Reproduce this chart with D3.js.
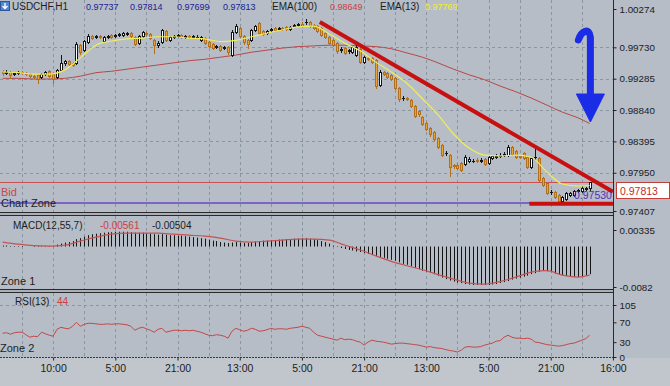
<!DOCTYPE html>

<head>
  <meta charset="utf-8">
  <script src="https://d3js.org/d3.v7.min.js"></script>
  <style>
    body {
      margin: 0;
      background: #b6bdc6;
    }
    svg text {
      font-family: "Liberation Sans", Arial, sans-serif;
    }
    .axis text {
      font-family: "Liberation Sans Narrow", "Liberation Sans", Arial, sans-serif;
      font-size: 9.8px;
      fill: #1c1c1c;
    }
    .axis line {
      stroke: #222;
    }
  </style>
</head>

<body>
  <script>
    var outerWidth = 670,
      outerHeight = 386;

    // right edge of all three panels, the price axis hangs off it
    var axisX = 613.5;

    // ---- axis ticks ----
    var priceTicks = [1.00274, 0.99730, 0.99285, 0.98840, 0.98395, 0.97950, 0.97407];
    var macdTicks = [0.00335, -0.0082];
    var macdTickText = ["0.00335", "-0.0082"];
    var rsiTicks = [105, 70, 30, 0];
    var timeTickIdx = [13, 29, 45, 61, 77, 93, 109, 125, 141, 157];
    var timeTickText = ["10:00", "5:00", "21:00", "13:00", "5:00", "21:00", "13:00", "5:00", "21:00", "16:00"];

    // ---- H1 candles, one row = 8 hours (one grid cell) ----
    var opens = [
      0.9938, 0.9937, 0.9938, 0.9935, 0.9937, 0.9938, 0.9937, 0.9935,
      0.9932, 0.9934, 0.9931, 0.9935, 0.9939, 0.9935, 0.9931, 0.9941,
      0.9951, 0.9954, 0.9951, 0.9951, 0.9976, 0.9969, 0.9981, 0.9989,
      0.9988, 0.9989, 0.9982, 0.9988, 0.9990, 0.9989, 0.9990, 0.9990,
      0.9992, 0.9993, 0.9988, 0.9979, 0.9989, 0.9993, 0.9992, 0.9983,
      0.9976, 0.9981, 0.9996, 0.9983, 0.9988, 0.9989, 0.9990, 0.9988,
      0.9989, 0.9988, 0.9988, 0.9983, 0.9986, 0.9981, 0.9978, 0.9974,
      0.9975, 0.9972, 0.9974, 0.9962, 0.9995, 1.0000, 0.9989, 0.9983,
      0.9983, 0.9998, 1.0008, 0.9996, 0.9993, 0.9998, 1.0000, 0.9999,
      1.0000, 1.0002, 0.9999, 1.0003, 1.0005, 1.0006, 1.0009, 1.0009,
      1.0005, 1.0003, 1.0000, 0.9993, 0.9988, 0.9983, 0.9979, 0.9969,
      0.9972, 0.9968, 0.9966, 0.9962, 0.9971, 0.9952, 0.9958, 0.9958,
      0.9955, 0.9920, 0.9938, 0.9937, 0.9934, 0.9929, 0.9915, 0.9901,
      0.9901, 0.9898, 0.9890, 0.9883, 0.9874, 0.9866, 0.9858, 0.9853,
      0.9844, 0.9834, 0.9823, 0.9820, 0.9806, 0.9806, 0.9809, 0.9807,
      0.9812, 0.9812, 0.9813, 0.9812, 0.9814, 0.9809, 0.9816, 0.9817,
      0.9819, 0.9820, 0.9820, 0.9831, 0.9826, 0.9819, 0.9823, 0.9817,
      0.9803, 0.9817, 0.9816, 0.9787, 0.9780, 0.9768, 0.9768, 0.9763,
      0.9755, 0.9758, 0.9763, 0.9763, 0.9769, 0.9769, 0.9772, 0.97737
    ];
    var highs = [
      0.9941, 0.9941, 0.9939, 0.9938, 0.9939, 0.9939, 0.9938, 0.9937,
      0.9934, 0.9935, 0.9937, 0.9939, 0.9941, 0.9937, 0.9942, 0.9962,
      0.9955, 0.9955, 0.9952, 0.9981, 0.9978, 0.9983, 0.9992, 0.9990,
      0.9990, 0.9990, 0.9989, 0.9990, 0.9992, 0.9992, 0.9993, 0.9995,
      0.9995, 0.9995, 0.9989, 0.9990, 0.9996, 0.9995, 0.9993, 0.9985,
      0.9982, 0.9999, 0.9998, 0.9989, 0.9990, 0.9992, 0.9992, 0.9990,
      0.9990, 0.9990, 0.9990, 0.9989, 0.9988, 0.9982, 0.9979, 0.9976,
      0.9976, 0.9975, 0.9975, 0.9998, 1.0006, 1.0002, 0.9990, 0.9985,
      0.9999, 1.0005, 1.0009, 0.9998, 0.9998, 1.0000, 1.0002, 1.0002,
      1.0002, 1.0003, 1.0003, 1.0006, 1.0008, 1.0009, 1.0013, 1.0010,
      1.0006, 1.0005, 1.0002, 0.9996, 0.9989, 0.9985, 0.9981, 0.9974,
      0.9974, 0.9971, 0.9975, 0.9976, 0.9972, 0.9961, 0.9959, 0.9959,
      0.9956, 0.9941, 0.9939, 0.9938, 0.9935, 0.9931, 0.9917, 0.9904,
      0.9902, 0.9900, 0.9891, 0.9884, 0.9876, 0.9867, 0.9860, 0.9854,
      0.9846, 0.9836, 0.9826, 0.9822, 0.9807, 0.9809, 0.9810, 0.9820,
      0.9817, 0.9814, 0.9816, 0.9816, 0.9816, 0.9819, 0.9820, 0.9822,
      0.9823, 0.9824, 0.9834, 0.9833, 0.9827, 0.9820, 0.9824, 0.9819,
      0.9817, 0.9833, 0.9817, 0.9789, 0.9782, 0.9770, 0.9769, 0.9765,
      0.9762, 0.9768, 0.9768, 0.9770, 0.9772, 0.9776, 0.9775, 0.97814
    ];
    var lows = [
      0.9934, 0.9935, 0.9929, 0.9934, 0.9935, 0.9935, 0.9934, 0.9931,
      0.9929, 0.9922, 0.9929, 0.9934, 0.9931, 0.9922, 0.9929, 0.9939,
      0.9948, 0.9948, 0.9946, 0.9949, 0.9964, 0.9968, 0.9979, 0.9985,
      0.9986, 0.9986, 0.9981, 0.9986, 0.9986, 0.9988, 0.9989, 0.9989,
      0.9990, 0.9988, 0.9976, 0.9978, 0.9988, 0.9990, 0.9985, 0.9965,
      0.9974, 0.9979, 0.9982, 0.9982, 0.9986, 0.9988, 0.9986, 0.9986,
      0.9986, 0.9986, 0.9986, 0.9982, 0.9978, 0.9974, 0.9971, 0.9972,
      0.9968, 0.9971, 0.9964, 0.9961, 0.9993, 0.9988, 0.9978, 0.9972,
      0.9982, 0.9996, 0.9992, 0.9990, 0.9992, 0.9996, 0.9996, 0.9998,
      0.9998, 0.9998, 0.9998, 1.0002, 1.0003, 1.0002, 1.0006, 1.0002,
      0.9999, 0.9995, 0.9989, 0.9986, 0.9978, 0.9975, 0.9965, 0.9966,
      0.9964, 0.9965, 0.9965, 0.9961, 0.9951, 0.9951, 0.9955, 0.9951,
      0.9915, 0.9918, 0.9934, 0.9929, 0.9927, 0.9914, 0.9897, 0.9898,
      0.9898, 0.9888, 0.9874, 0.9876, 0.9863, 0.9856, 0.9847, 0.9841,
      0.9830, 0.9819, 0.9820, 0.9790, 0.9802, 0.9800, 0.9797, 0.9806,
      0.9810, 0.9810, 0.9810, 0.9810, 0.9806, 0.9807, 0.9814, 0.9816,
      0.9817, 0.9819, 0.9819, 0.9820, 0.9816, 0.9816, 0.9814, 0.9802,
      0.9802, 0.9814, 0.9783, 0.9776, 0.9765, 0.9765, 0.9759, 0.9752,
      0.9753, 0.9756, 0.9762, 0.9762, 0.9768, 0.9768, 0.9770, 0.97699
    ];
    var closes = [
      0.9937, 0.9938, 0.9934, 0.9937, 0.9938, 0.9937, 0.9935, 0.9932,
      0.9931, 0.9928, 0.9935, 0.9938, 0.9932, 0.9928, 0.9941, 0.9951,
      0.9954, 0.9949, 0.9948, 0.9978, 0.9966, 0.9982, 0.9989, 0.9986,
      0.9989, 0.9988, 0.9988, 0.9989, 0.9988, 0.9990, 0.9992, 0.9993,
      0.9993, 0.9989, 0.9978, 0.9989, 0.9995, 0.9992, 0.9986, 0.9976,
      0.9979, 0.9998, 0.9983, 0.9988, 0.9989, 0.9990, 0.9988, 0.9989,
      0.9988, 0.9989, 0.9988, 0.9988, 0.9979, 0.9975, 0.9972, 0.9975,
      0.9969, 0.9974, 0.9966, 0.9995, 1.0003, 0.9989, 0.9981, 0.9978,
      0.9998, 1.0003, 0.9993, 0.9992, 0.9996, 0.9999, 0.9998, 1.0000,
      0.9999, 0.9999, 1.0002, 1.0005, 1.0006, 1.0003, 1.0009, 1.0003,
      1.0000, 0.9996, 0.9990, 0.9988, 0.9979, 0.9976, 0.9968, 0.9971,
      0.9965, 0.9969, 0.9974, 0.9974, 0.9952, 0.9959, 0.9956, 0.9952,
      0.9918, 0.9938, 0.9935, 0.9931, 0.9928, 0.9915, 0.9900, 0.9901,
      0.9900, 0.9890, 0.9876, 0.9878, 0.9864, 0.9857, 0.9850, 0.9843,
      0.9831, 0.9820, 0.9823, 0.9803, 0.9805, 0.9802, 0.9799, 0.9817,
      0.9814, 0.9812, 0.9812, 0.9813, 0.9807, 0.9817, 0.9819, 0.9819,
      0.9820, 0.9822, 0.9831, 0.9822, 0.9817, 0.9817, 0.9816, 0.9803,
      0.9816, 0.9817, 0.9785, 0.9777, 0.9766, 0.9768, 0.9760, 0.9755,
      0.9760, 0.9766, 0.9766, 0.9769, 0.9770, 0.9773, 0.9773, 0.97813
    ];

    // moving averages and MACD signal, read every 4th bar
    var lineIdx = [0, 4, 8, 12, 16, 20, 24, 28, 32, 36, 40, 44, 48, 52, 56, 60, 64, 68, 72, 76,
      80, 84, 88, 92, 96, 100, 104, 108, 112, 116, 120, 124, 128, 132, 136, 140, 144, 148, 151];
    var ema13 = [0.9938, 0.9937, 0.9935, 0.9935, 0.9941, 0.9958, 0.9976, 0.9982, 0.9985, 0.9986,
      0.9988, 0.9988, 0.9986, 0.9985, 0.9981, 0.9983, 0.9988, 0.9993, 0.9998, 1.0002,
      1.0003, 0.9992, 0.9979, 0.9968, 0.9952, 0.9938, 0.9922, 0.9900, 0.9877, 0.9850,
      0.9830, 0.9820, 0.9819, 0.9820, 0.9817, 0.9796, 0.9779, 0.9776, 0.97769];
    var ema100 = [0.9929, 0.9929, 0.9928, 0.9928, 0.9929, 0.9932, 0.9937, 0.9939, 0.9942, 0.9945,
      0.9948, 0.9951, 0.9954, 0.9956, 0.9959, 0.9962, 0.9966, 0.9969, 0.9972, 0.9974,
      0.9975, 0.9976, 0.9976, 0.9975, 0.9974, 0.9971, 0.9965, 0.9959, 0.9951, 0.9942,
      0.9934, 0.9927, 0.9918, 0.9910, 0.9901, 0.9891, 0.9881, 0.9873, 0.98649];
    var macdSignal = [0.0009, 0.0005, 0.0002, 0.0001, 0.0003, 0.0011, 0.0019, 0.0025, 0.0027, 0.0027,
      0.0027, 0.0025, 0.0023, 0.0021, 0.0017, 0.0011, 0.0009, 0.0011, 0.0013, 0.0015,
      0.0015, 0.0013, 0.0003, -0.0007, -0.0019, -0.0030, -0.0039, -0.0047, -0.0057, -0.0066,
      -0.0074, -0.0076, -0.0071, -0.0062, -0.0052, -0.0049, -0.0058, -0.0062, -0.0058];

    var macd = [
      0.0002, 0.0002, 0.0001, 0.0001, 0.0001, 0.0001, 0.0000, 0.0000,
      -0.0001, -0.0001, -0.0001, -0.0001, -0.0001, 0.0001, 0.0004, 0.0006,
      0.0008, 0.0009, 0.0011, 0.0015, 0.0017, 0.0020, 0.0023, 0.0025,
      0.0026, 0.0027, 0.0028, 0.0029, 0.0029, 0.0030, 0.0030, 0.0030,
      0.0030, 0.0029, 0.0028, 0.0028, 0.0028, 0.0027, 0.0026, 0.0025,
      0.0024, 0.0025, 0.0024, 0.0023, 0.0023, 0.0022, 0.0022, 0.0021,
      0.0020, 0.0019, 0.0018, 0.0017, 0.0016, 0.0014, 0.0012, 0.0011,
      0.0009, 0.0008, 0.0007, 0.0008, 0.0009, 0.0008, 0.0007, 0.0007,
      0.0009, 0.0010, 0.0011, 0.0012, 0.0012, 0.0013, 0.0013, 0.0014,
      0.0014, 0.0015, 0.0015, 0.0016, 0.0016, 0.0017, 0.0017, 0.0016,
      0.0015, 0.0013, 0.0011, 0.0009, 0.0006, 0.0002, -0.0001, -0.0003,
      -0.0005, -0.0007, -0.0008, -0.0010, -0.0011, -0.0013, -0.0015, -0.0017,
      -0.0019, -0.0021, -0.0023, -0.0025, -0.0027, -0.0029, -0.0032, -0.0035,
      -0.0037, -0.0040, -0.0043, -0.0046, -0.0049, -0.0051, -0.0053, -0.0056,
      -0.0059, -0.0063, -0.0066, -0.0069, -0.0071, -0.0073, -0.0074, -0.0076,
      -0.0077, -0.0078, -0.0078, -0.0078, -0.0078, -0.0078, -0.0077, -0.0076,
      -0.0074, -0.0072, -0.0070, -0.0067, -0.0065, -0.0063, -0.0061, -0.0059,
      -0.0056, -0.0054, -0.0051, -0.0049, -0.0050, -0.0052, -0.0055, -0.0057,
      -0.0058, -0.0060, -0.0061, -0.0062, -0.0062, -0.0061, -0.0059, -0.00561
    ];

    var rsi = [
      48, 49, 46, 49, 50, 50, 45, 40,
      42, 41, 50, 47, 44, 42, 56, 60,
      58, 57, 62, 70, 62, 66, 68, 68,
      67, 66, 66, 67, 66, 67, 67, 66,
      65, 62, 54, 58, 60, 57, 54, 50,
      56, 58, 50, 52, 54, 54, 53, 54,
      53, 54, 52, 50, 47, 44, 43, 45,
      44, 42, 38, 52, 58, 55, 52, 54,
      58, 56, 52, 53, 55, 58, 56, 57,
      57, 56, 58, 59, 60, 62, 60, 58,
      50, 44, 42, 40, 38, 36, 34, 38,
      35, 36, 35, 32, 30, 24, 30, 34,
      32, 31, 30, 28, 26, 27, 28, 28,
      27, 26, 25, 24, 22, 20, 21, 19,
      18, 17, 15, 13, 12, 10, 14, 20,
      21, 20, 20, 21, 24, 26, 28, 32,
      33, 40, 44, 40, 38, 38, 37, 38,
      36, 30, 29, 27, 25, 24, 23, 22,
      23, 25, 27, 28, 31, 34, 37, 44
    ];

    var bidPrice = 0.97813,
      zonePrice = 0.97530;

    // hand drawn annotations, in bar index / price
    var trendLine = [[81.6, 1.0009], [157, 0.9768]];
    var supportLine = [[135.5, 0.9751], [157, 0.9751]];
    var arrowTip = [151.2, 0.9867];

    // ---- scales ----
    var x = d3.scaleLinear().domain([0, 151]).range([2.6, 589.6]);
    var yMain = d3.scaleLinear().domain([0.97407, 1.00274]).range([211, 9]);
    var yMacd = d3.scaleLinear().domain([-0.0082, 0.00335]).range([287, 230]);
    var yRsi = d3.scaleLinear().domain([0, 105]).range([357, 305]);

    var gridColor = "#8a95a2";
    var gridIdx = d3.range(5, 152, 8);

    var svg = d3.select("body")
      .append("svg")
      .attr("width", outerWidth)
      .attr("height", outerHeight);

    svg.append("rect").attr("width", outerWidth).attr("height", outerHeight).attr("fill", "#b6bdc6");
    svg.append("rect").attr("y", 358).attr("width", outerWidth).attr("height", 28).attr("fill", "#c1c6cc");

    function addClip(id, top, bottom) {
      svg.append("clipPath").attr("id", id)
        .append("rect").attr("x", 0).attr("y", top).attr("width", axisX).attr("height", bottom - top);
    }
    addClip("clipMain", 0, 212);
    addClip("clipMacd", 216, 289);
    addClip("clipRsi", 293, 357);

    function px(i) {
      return Math.round(x(i)) + 0.5;
    }

    function grid(g, top, bottom, hVals, yScale) {
      g.selectAll(".vg").data(gridIdx).join("line")
        .attr("x1", px).attr("x2", px)
        .attr("y1", top).attr("y2", bottom)
        .attr("stroke", gridColor).attr("stroke-dasharray", "3,3");
      g.selectAll(".hg").data(hVals).join("line")
        .attr("x1", 0).attr("x2", axisX)
        .attr("y1", function(d) { return Math.round(yScale(d)) + 0.5; })
        .attr("y2", function(d) { return Math.round(yScale(d)) + 0.5; })
        .attr("stroke", gridColor).attr("stroke-dasharray", "3,3");
    }

    // ================= main price panel =================
    var mainG = svg.append("g").attr("clip-path", "url(#clipMain)");
    grid(mainG.append("g"), 0, 212, priceTicks.slice(1, 6), yMain);

    // bid / chart zone lines
    mainG.append("line").attr("x1", 0).attr("x2", axisX)
      .attr("y1", Math.round(yMain(bidPrice)) + 0.5).attr("y2", Math.round(yMain(bidPrice)) + 0.5)
      .attr("stroke", "#c85050");
    mainG.append("line").attr("x1", 0).attr("x2", axisX)
      .attr("y1", Math.round(yMain(zonePrice)) + 1).attr("y2", Math.round(yMain(zonePrice)) + 1)
      .attr("stroke", "#6848c8").attr("stroke-width", 1.6);

    var emaLine = d3.line()
      .x(function(d) { return x(d[0]); })
      .y(function(d) { return yMain(d[1]); })
      .curve(d3.curveMonotoneX);

    mainG.append("path")
      .attr("d", emaLine(lineIdx.map(function(d, k) { return [d, ema100[k]]; })))
      .attr("fill", "none").attr("stroke", "#b84848").attr("stroke-width", 1);

    var idx = d3.range(closes.length);
    var candles = mainG.selectAll(".candle").data(idx).join("g").attr("class", "candle");

    function candleStroke(i) {
      return closes[i] < opens[i] ? "#b3701c" : "#151515";
    }

    candles.append("line")
      .attr("x1", px).attr("x2", px)
      .attr("y1", function(i) { return Math.round(yMain(highs[i])); })
      .attr("y2", function(i) { return Math.round(yMain(lows[i])) + 1; })
      .attr("stroke", candleStroke);

    candles.each(function(i) {
      var top = Math.round(yMain(Math.max(opens[i], closes[i]))) + 0.5;
      var bot = Math.round(yMain(Math.min(opens[i], closes[i]))) + 0.5;
      var cx = px(i);
      if (bot - top < 1) {
        d3.select(this).append("line")
          .attr("x1", cx - 1.5).attr("x2", cx + 1.5)
          .attr("y1", top).attr("y2", top)
          .attr("stroke", candleStroke(i));
      } else {
        d3.select(this).append("rect")
          .attr("x", cx - 1).attr("y", top)
          .attr("width", 2).attr("height", bot - top)
          .attr("fill", closes[i] > opens[i] ? "#ffffff" : "#e8a23a")
          .attr("stroke", candleStroke(i));
      }
    });

    mainG.append("path")
      .attr("d", emaLine(lineIdx.map(function(d, k) { return [d, ema13[k]]; })))
      .attr("fill", "none").attr("stroke", "#eeee5a").attr("stroke-width", 1.2);

    // trend lines
    var trend = d3.line()
      .x(function(d) { return x(d[0]); })
      .y(function(d) { return yMain(d[1]); });
    mainG.append("path").attr("d", trend(trendLine))
      .attr("stroke", "#c81010").attr("stroke-width", 4).attr("fill", "none");
    mainG.append("path").attr("d", trend(supportLine))
      .attr("stroke", "#c81010").attr("stroke-width", 4).attr("fill", "none");

    // zone price label
    mainG.append("text")
      .attr("x", 574).attr("y", yMain(zonePrice) - 3.5)
      .attr("font-size", "10.5px").attr("fill", "#5530b8")
      .text("0.97530");

    // blue hooked arrow
    var arrowG = svg.append("g")
      .attr("transform", "translate(" + x(arrowTip[0]) + "," + yMain(arrowTip[1]) + ")");
    arrowG.append("path")
      .attr("d", "M-12,-82 C-9,-91 -1,-95 0,-85 L0,-27")
      .attr("fill", "none").attr("stroke", "#1a2ce6").attr("stroke-width", 7)
      .attr("stroke-linecap", "round");
    arrowG.append("path")
      .attr("d", "M-14,-28 L14,-28 L0,0 Z")
      .attr("fill", "#1a2ce6").attr("stroke", "#1a2ce6").attr("stroke-linejoin", "round");

    // header
    var header = svg.append("g").attr("font-size", "10px");
    header.append("rect").attr("x", 0.5).attr("y", 1.5).attr("width", 9).attr("height", 9)
      .attr("fill", "#4f86d6").attr("stroke", "#2d5597");
    header.append("path").attr("d", "M5,3 L5,8.5 M2.5,6 L5,8.5 L7.5,6")
      .attr("stroke", "#fff").attr("stroke-width", 1.4).attr("fill", "none");
    header.append("text").attr("x", 12).attr("y", 9.5).attr("fill", "#1d1d1d").text("USDCHF,H1");
    header.append("text").attr("x", 86).attr("y", 9.5).attr("fill", "#202098").attr("font-size", "9px").text("0.97737");
    header.append("text").attr("x", 130).attr("y", 9.5).attr("fill", "#202098").attr("font-size", "9px").text("0.97814");
    header.append("text").attr("x", 177).attr("y", 9.5).attr("fill", "#202098").attr("font-size", "9px").text("0.97699");
    header.append("text").attr("x", 223).attr("y", 9.5).attr("fill", "#202098").attr("font-size", "9px").text("0.97813");
    header.append("text").attr("x", 272).attr("y", 9.5).attr("fill", "#1d1d1d").text("EMA(100)");
    header.append("text").attr("x", 330).attr("y", 9.5).attr("fill", "#cc4040").attr("font-size", "9px").text("0.98649");
    header.append("text").attr("x", 380).attr("y", 9.5).attr("fill", "#1d1d1d").text("EMA(13)");
    header.append("text").attr("x", 425).attr("y", 9.5).attr("fill", "#eeee30").attr("font-size", "9px").text("0.97769");

    svg.append("text").attr("x", 1).attr("y", 196).attr("font-size", "11px").attr("fill", "#c84848").text("Bid");
    svg.append("text").attr("x", 1).attr("y", 207).attr("font-size", "11px").attr("fill", "#1d1d1d").text("Chart Zone");

    // ================= MACD panel =================
    var macdG = svg.append("g").attr("clip-path", "url(#clipMacd)");
    grid(macdG.append("g"), 216, 289, [], yMacd);

    macdG.selectAll(".bar").data(idx).join("line")
      .attr("x1", px).attr("x2", px)
      .attr("y1", yMacd(0))
      .attr("y2", function(i) { return yMacd(macd[i]); })
      .attr("stroke", "#151515");

    var sigLine = d3.line()
      .x(function(d) { return x(d[0]); })
      .y(function(d) { return yMacd(d[1]); })
      .curve(d3.curveMonotoneX);
    macdG.append("path")
      .attr("d", sigLine(lineIdx.map(function(d, k) { return [d, macdSignal[k]]; })))
      .attr("fill", "none").attr("stroke", "#c45454").attr("stroke-width", 1.2);

    svg.append("text").attr("x", 13).attr("y", 229).attr("font-size", "10px").attr("fill", "#1d1d1d").text("MACD(12,55,7)");
    svg.append("text").attr("x", 100).attr("y", 229).attr("font-size", "10px").attr("fill", "#cc4040").text("-0.00561");
    svg.append("text").attr("x", 152).attr("y", 229).attr("font-size", "10px").attr("fill", "#1d1d1d").text("-0.00504");
    svg.append("text").attr("x", 1).attr("y", 285).attr("font-size", "11px").attr("fill", "#1d1d1d").text("Zone 1");

    // ================= RSI panel =================
    var rsiG = svg.append("g").attr("clip-path", "url(#clipRsi)");
    grid(rsiG.append("g"), 293, 357, [105], yRsi);

    var rsiLine = d3.line()
      .x(function(d, i) { return x(i); })
      .y(function(d) { return yRsi(d); });
    rsiG.append("path").attr("d", rsiLine(rsi))
      .attr("fill", "none").attr("stroke", "#c24848").attr("stroke-width", 1);

    svg.append("text").attr("x", 15).attr("y", 305).attr("font-size", "10px").attr("fill", "#1d1d1d").text("RSI(13)");
    svg.append("text").attr("x", 57).attr("y", 305).attr("font-size", "10px").attr("fill", "#cc4040").text("44");
    svg.append("text").attr("x", 0).attr("y", 352).attr("font-size", "11px").attr("fill", "#1d1d1d").text("Zone 2");

    // ================= frames =================
    function separator(y0) {
      svg.append("rect").attr("x", 0).attr("y", y0).attr("width", axisX).attr("height", 4).attr("fill", "#a9b0b9");
      svg.append("line").attr("x1", 0).attr("x2", axisX).attr("y1", y0 + 0.5).attr("y2", y0 + 0.5).attr("stroke", "#2a2a2a");
      svg.append("line").attr("x1", 0).attr("x2", axisX).attr("y1", y0 + 3.5).attr("y2", y0 + 3.5).attr("stroke", "#2a2a2a");
    }
    separator(212);
    separator(289);
    svg.append("line").attr("x1", 0).attr("x2", axisX).attr("y1", 357.5).attr("y2", 357.5)
      .attr("stroke", "#3a3a3a").attr("stroke-dasharray", "2,1");
    svg.append("line").attr("x1", axisX).attr("x2", axisX).attr("y1", 0).attr("y2", 358)
      .attr("stroke", "#2a2a2a");

    // ================= axes =================
    var priceAxis = d3.axisRight(yMain).tickValues(priceTicks).tickSize(3).tickPadding(3)
      .tickFormat(d3.format(".5f"));
    svg.append("g").attr("class", "axis").attr("transform", "translate(" + axisX + ",0)")
      .call(priceAxis).call(function(g) { g.select(".domain").remove(); });

    var macdAxis = d3.axisRight(yMacd).tickValues(macdTicks).tickSize(3).tickPadding(3)
      .tickFormat(function(d, i) { return macdTickText[i]; });
    svg.append("g").attr("class", "axis").attr("transform", "translate(" + axisX + ",0)")
      .call(macdAxis).call(function(g) { g.select(".domain").remove(); });

    var rsiAxis = d3.axisRight(yRsi).tickValues(rsiTicks).tickSize(3).tickPadding(3);
    svg.append("g").attr("class", "axis").attr("transform", "translate(" + axisX + ",0)")
      .call(rsiAxis).call(function(g) { g.select(".domain").remove(); });

    var timeAxis = d3.axisBottom(x).tickValues(timeTickIdx).tickSize(3).tickPadding(4)
      .tickFormat(function(d, i) { return timeTickText[i]; });
    var tg = svg.append("g").attr("class", "axis").attr("transform", "translate(0,357.5)")
      .call(timeAxis).call(function(g) { g.select(".domain").remove(); });
    tg.selectAll("text").style("font-size", "10.5px");

    // current bid label on the price axis
    var bidY = Math.round(yMain(bidPrice)) + 0.5;
    svg.append("rect").attr("x", 616.5).attr("y", bidY).attr("width", 53).attr("height", 16)
      .attr("fill", "#ffffff").attr("stroke", "#c04040");
    svg.append("text").attr("x", 620).attr("y", bidY + 12)
      .attr("font-family", "'Liberation Sans Narrow', 'Liberation Sans', Arial, sans-serif")
      .attr("font-size", "10.5px").attr("fill", "#c82828").text("0.97813");
  </script>
</body>
